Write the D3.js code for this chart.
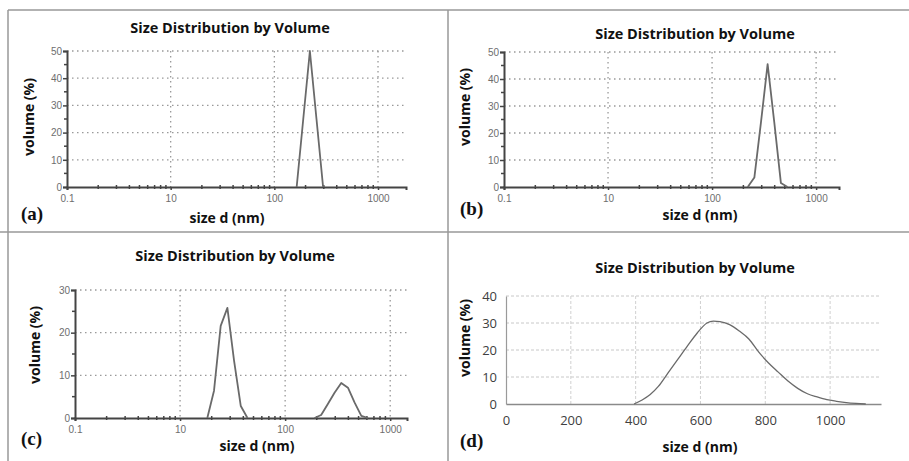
<!DOCTYPE html>
<html>
<head>
<meta charset="utf-8" />
<script src="https://d3js.org/d3.v7.min.js"></script>
<style>
  body { margin: 0; background: #fff; }
  .title, .axlabel { font-family: "Open Sans", sans-serif; font-weight: bold; fill: #111; }
  .title { font-size: 14.5px; }
  .axlabel { font-size: 14px; }
  .panel-tag { font-family: "Liberation Serif", serif; font-weight: bold; font-size: 19px; fill: #111; }
  .logtick { font-family: "Liberation Sans", sans-serif; font-size: 10px; fill: #6e6e6e; }
  .lintick { font-family: "Open Sans", sans-serif; font-size: 13px; fill: #404040; }
  .frame { stroke: #999; stroke-width: 1.5; }
</style>
</head>
<body>
<svg id="chart" width="909" height="461"></svg>
<script>

// tick labels as printed on the log panels (first label reads 0.1)
var logTickValues = [1, 10, 100, 1000];
var logTickLabels = ["0.1", "10", "100", "1000"];

// (a)
var sizesA = [164.2, 190.1, 220.2, 255, 295.3];
var volA   = [0, 25, 50, 25, 0];

// (b)
var sizesB = [220.2, 255, 295.3, 342, 396.1, 458.7, 531.2];
var volB   = [0, 3.5, 24, 45.5, 24, 1.5, 0];

// (c) two peaks
var sizesC1 = [18.17, 21.04, 24.36, 28.21, 32.67, 37.84, 43.82];
var volC1   = [0, 6.4, 21.6, 25.8, 13.4, 2.8, 0];
var sizesC2 = [190.1, 220.2, 255, 295.3, 342, 396.1, 458.7, 531.2, 615.1];
var volC2   = [0, 0.7, 3.3, 5.9, 8.2, 7.1, 3.6, 0.5, 0];

// (d) linear axis
var sizesD = [395, 420, 445, 470, 500, 530, 560, 590, 620, 640, 660, 690, 720, 750, 780, 810, 840, 870, 900, 930, 960, 990, 1020, 1050, 1080, 1110];
var volD   = [0, 1.5, 3.5, 6.5, 11.5, 16.5, 21.5, 26.3, 30, 30.7, 30.5, 29.4, 27, 24, 19.2, 15.2, 11.8, 8.5, 5.8, 3.8, 2.6, 1.6, 1.0, 0.5, 0.2, 0];
var linTicksX = [0, 200, 400, 600, 800, 1000];
var linTicksY = [0, 10, 20, 30, 40];

var svg = d3.select("#chart");

// panel frame lines
var frame = svg.append("g");
frame.append("line").attr("class", "frame").attr("x1", 8).attr("y1", 10).attr("x2", 909).attr("y2", 10);
frame.append("line").attr("class", "frame").attr("x1", 8).attr("y1", 10).attr("x2", 8).attr("y2", 461);
frame.append("line").attr("class", "frame").attr("x1", 448).attr("y1", 10).attr("x2", 448).attr("y2", 461);
frame.append("line").attr("class", "frame").attr("x1", 0).attr("y1", 232).attr("x2", 909).attr("y2", 232);

function pairs(xs, ys) {
  return xs.map(function(x, i) { return [x, ys[i]]; });
}

function drawLogPanel(cfg) {
  var g = svg.append("g");
  var x = d3.scaleLog().domain([1, cfg.xMax]).range([cfg.left, cfg.right]);
  var y = d3.scaleLinear().domain([0, cfg.yMax]).range([cfg.bottom, cfg.top]);

  // dotted grid
  var yGrid = d3.range(10, cfg.yMax + 1, 10);
  g.selectAll(".hgrid").data(yGrid).enter().append("line")
    .attr("x1", cfg.left).attr("x2", cfg.right)
    .attr("y1", function(d) { return y(d); }).attr("y2", function(d) { return y(d); })
    .attr("stroke", "#999").attr("stroke-width", 1.3).attr("stroke-dasharray", "1.5,3.5");
  g.selectAll(".vgrid").data(logTickValues.slice(1)).enter().append("line")
    .attr("y1", cfg.top).attr("y2", cfg.bottom)
    .attr("x1", function(d) { return x(d); }).attr("x2", function(d) { return x(d); })
    .attr("stroke", "#999").attr("stroke-width", 1.3).attr("stroke-dasharray", "1.5,3.5");

  // minor x ticks on the axis
  var minor = [];
  [1, 10, 100, 1000].forEach(function(dec) {
    for (var k = 2; k <= 9; k++) if (dec * k <= cfg.xMax) minor.push(dec * k);
  });
  g.selectAll(".xminor").data(minor).enter().append("line")
    .attr("x1", function(d) { return x(d); }).attr("x2", function(d) { return x(d); })
    .attr("y1", cfg.bottom - 2).attr("y2", cfg.bottom + 2)
    .attr("stroke", "#444").attr("stroke-width", 1.5);

  // y axis
  var yAxis = d3.axisLeft(y).tickValues(d3.range(0, cfg.yMax + 1, 10)).tickSize(4).tickPadding(1);
  var ya = g.append("g").attr("transform", "translate(" + cfg.left + ",0)").call(yAxis);
  ya.select(".domain").attr("stroke", "#444").attr("stroke-width", 2);
  ya.selectAll(".tick line").attr("stroke", "#444").attr("stroke-width", 1.5);
  ya.selectAll(".tick text").attr("class", "logtick").attr("fill", null);
  var yMinor = d3.range(5, cfg.yMax, 10);
  g.selectAll(".yminor").data(yMinor).enter().append("line")
    .attr("x1", cfg.left - 3).attr("x2", cfg.left)
    .attr("y1", function(d) { return y(d); }).attr("y2", function(d) { return y(d); })
    .attr("stroke", "#444").attr("stroke-width", 1.5);

  // x axis
  var xAxis = d3.axisBottom(x).tickValues(logTickValues).tickSize(3).tickPadding(5)
    .tickFormat(function(d, i) { return logTickLabels[i]; });
  var xa = g.append("g").attr("transform", "translate(0," + cfg.bottom + ")").call(xAxis);
  xa.select(".domain").attr("stroke", "#444").attr("stroke-width", 2);
  xa.selectAll(".tick line").attr("stroke", "#444").attr("stroke-width", 1.5);
  xa.selectAll(".tick text").attr("class", "logtick").attr("fill", null);

  // curves
  var line = d3.line().x(function(d) { return x(d[0]); }).y(function(d) { return y(d[1]); });
  cfg.series.forEach(function(s) {
    g.append("path").datum(s).attr("d", line)
      .attr("fill", "none").attr("stroke", "#6a6a6a").attr("stroke-width", 1.8)
      .attr("stroke-linejoin", "round");
  });

  drawLabels(g, cfg);
}

function drawLabels(g, cfg) {
  g.append("text").attr("class", "title").attr("text-anchor", "middle")
    .attr("x", cfg.titleX).attr("y", cfg.titleY).text("Size Distribution by Volume");
  g.append("text").attr("class", "axlabel").attr("text-anchor", "middle")
    .attr("transform", "translate(" + cfg.ylabX + "," + cfg.ylabY + ") rotate(-90)")
    .attr("dy", "0.35em").text("volume (%)");
  g.append("text").attr("class", "axlabel").attr("text-anchor", "middle")
    .attr("x", cfg.xlabX).attr("y", cfg.xlabY).attr("dy", "0.35em").text("size d (nm)");
  g.append("text").attr("class", "panel-tag")
    .attr("x", cfg.tagX).attr("y", cfg.tagY).attr("dy", "0.35em").text(cfg.tag);
}

drawLogPanel({
  left: 67, right: 406, top: 51, bottom: 187, xMax: 1862, yMax: 50,
  series: [pairs(sizesA, volA)],
  titleX: 230, titleY: 33, ylabX: 29, ylabY: 117, xlabX: 227, xlabY: 218,
  tag: "(a)", tagX: 21, tagY: 213
});

drawLogPanel({
  left: 504, right: 839, top: 52, bottom: 187, xMax: 1660, yMax: 50,
  series: [pairs(sizesB, volB)],
  titleX: 695, titleY: 39, ylabX: 465, ylabY: 107, xlabX: 700, xlabY: 215,
  tag: "(b)", tagX: 460, tagY: 208
});

drawLogPanel({
  left: 75, right: 407, top: 290, bottom: 418, xMax: 1445, yMax: 30,
  series: [pairs(sizesC1, volC1), pairs(sizesC2, volC2)],
  titleX: 235, titleY: 261, ylabX: 35, ylabY: 345, xlabX: 257, xlabY: 446,
  tag: "(c)", tagX: 21, tagY: 438
});

// (d) linear panel
(function() {
  var cfg = {
    left: 506, right: 881, top: 296, bottom: 404,
    titleX: 695, titleY: 273, ylabX: 465, ylabY: 338, xlabX: 700, xlabY: 447,
    tag: "(d)", tagX: 460, tagY: 440
  };
  var g = svg.append("g");
  var x = d3.scaleLinear().domain([0, 1157]).range([cfg.left, cfg.right]);
  var y = d3.scaleLinear().domain([0, 40]).range([cfg.bottom, cfg.top]);

  g.selectAll(".hgrid").data(linTicksY.slice(1)).enter().append("line")
    .attr("x1", cfg.left).attr("x2", cfg.right)
    .attr("y1", function(d) { return y(d); }).attr("y2", function(d) { return y(d); })
    .attr("stroke", "#c8c8c8").attr("stroke-width", 1).attr("stroke-dasharray", "3,2");
  g.selectAll(".vgrid").data(linTicksX.slice(1)).enter().append("line")
    .attr("y1", cfg.top).attr("y2", cfg.bottom)
    .attr("x1", function(d) { return x(d); }).attr("x2", function(d) { return x(d); })
    .attr("stroke", "#d0d0d0").attr("stroke-width", 1).attr("stroke-dasharray", "3,2");

  var ya = g.append("g").attr("transform", "translate(" + cfg.left + ",0)")
    .call(d3.axisLeft(y).tickValues(linTicksY).tickSize(0).tickPadding(9));
  ya.select(".domain").attr("stroke", "#9a9a9a").attr("stroke-width", 1.2);
  ya.selectAll(".tick text").attr("class", "lintick").attr("fill", null);

  var xa = g.append("g").attr("transform", "translate(0," + cfg.bottom + ")")
    .call(d3.axisBottom(x).tickValues(linTicksX).tickSize(0).tickPadding(12).tickFormat(d3.format("d")));
  xa.select(".domain").attr("stroke", "#8a8a8a").attr("stroke-width", 1.5);
  xa.selectAll(".tick text").attr("class", "lintick").attr("fill", null);

  var line = d3.line().curve(d3.curveMonotoneX)
    .x(function(d) { return x(d[0]); }).y(function(d) { return y(d[1]); });
  g.append("path").datum(pairs(sizesD, volD)).attr("d", line)
    .attr("fill", "none").attr("stroke", "#6a6a6a").attr("stroke-width", 1.3);

  drawLabels(g, cfg);
})();

</script>
</body>
</html>
